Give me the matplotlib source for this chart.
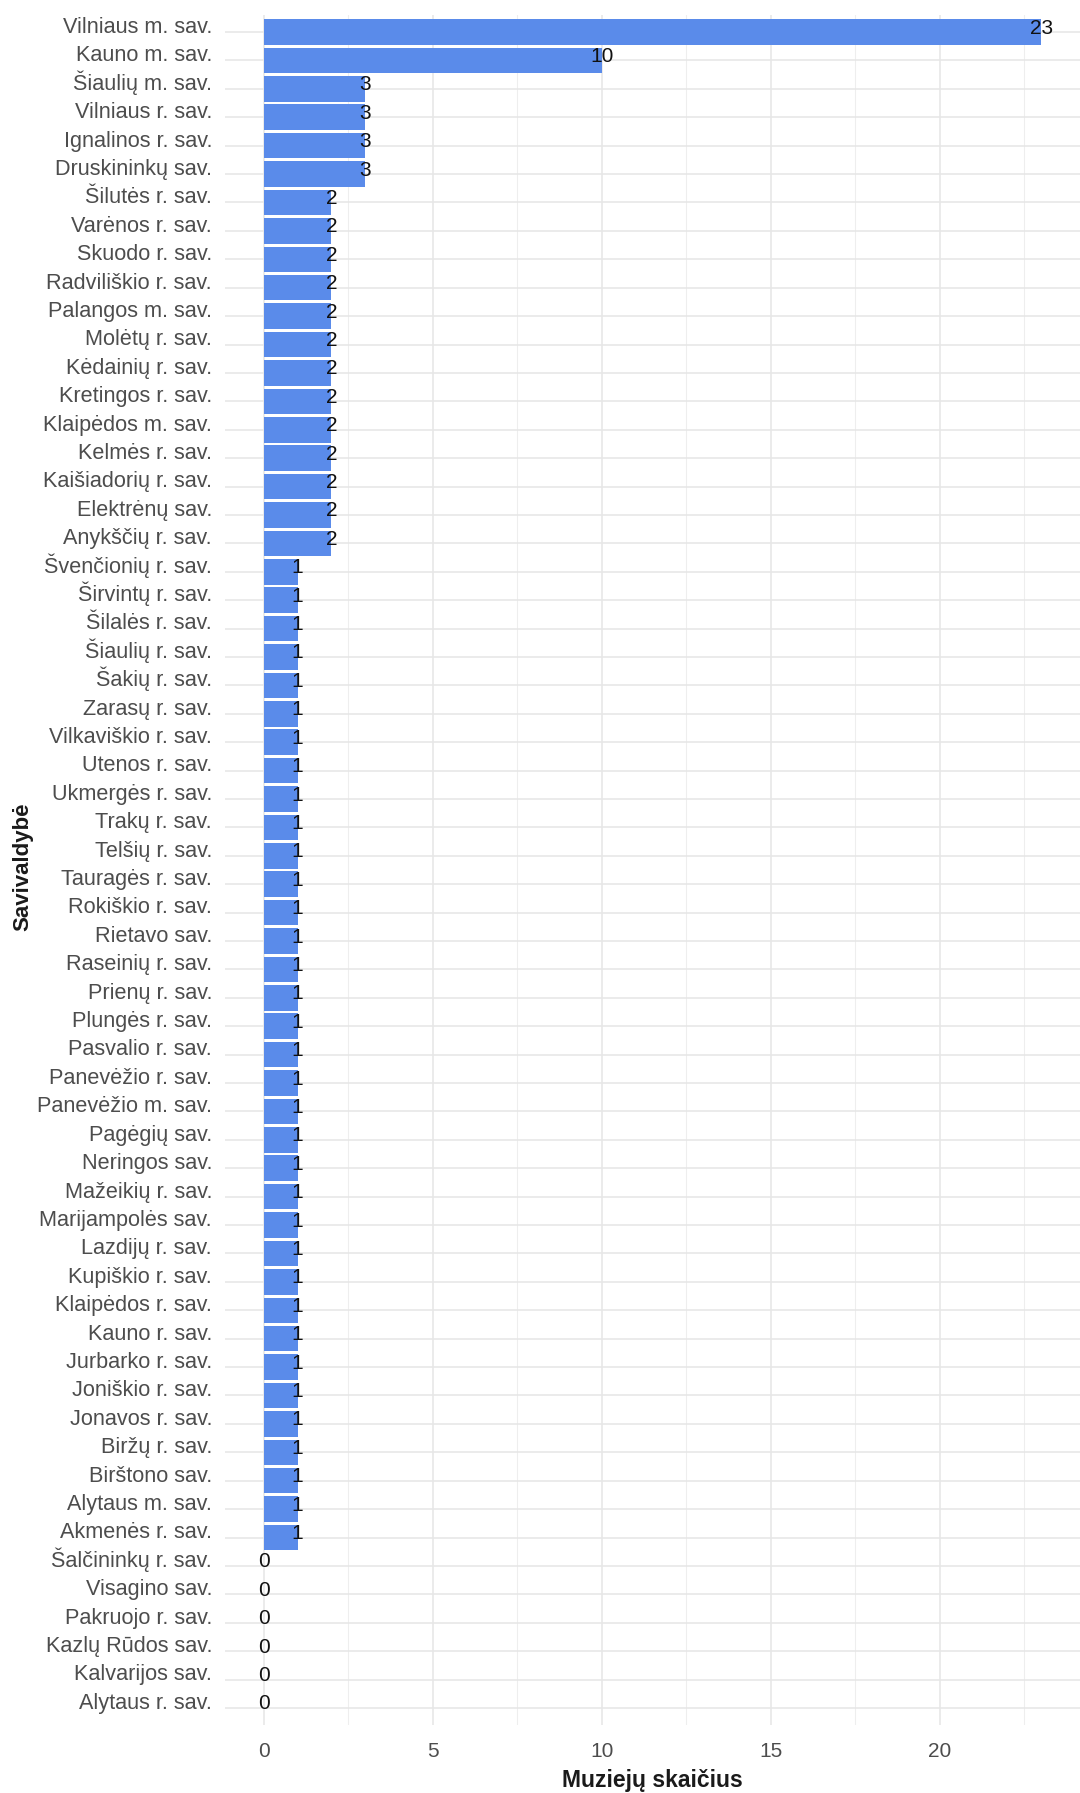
import numpy as np
import matplotlib
matplotlib.use('Agg')
import matplotlib.pyplot as plt

plt.rcParams['font.family'] = ['Liberation Sans', 'DejaVu Sans']

# municipalities, top to bottom
municipalities = [
    'Vilniaus m. sav.', 'Kauno m. sav.', 'Šiaulių m. sav.', 'Vilniaus r. sav.',
    'Ignalinos r. sav.', 'Druskininkų sav.', 'Šilutės r. sav.', 'Varėnos r. sav.',
    'Skuodo r. sav.', 'Radviliškio r. sav.', 'Palangos m. sav.', 'Molėtų r. sav.',
    'Kėdainių r. sav.', 'Kretingos r. sav.', 'Klaipėdos m. sav.', 'Kelmės r. sav.',
    'Kaišiadorių r. sav.', 'Elektrėnų sav.', 'Anykščių r. sav.', 'Švenčionių r. sav.',
    'Širvintų r. sav.', 'Šilalės r. sav.', 'Šiaulių r. sav.', 'Šakių r. sav.',
    'Zarasų r. sav.', 'Vilkaviškio r. sav.', 'Utenos r. sav.', 'Ukmergės r. sav.',
    'Trakų r. sav.', 'Telšių r. sav.', 'Tauragės r. sav.', 'Rokiškio r. sav.',
    'Rietavo sav.', 'Raseinių r. sav.', 'Prienų r. sav.', 'Plungės r. sav.',
    'Pasvalio r. sav.', 'Panevėžio r. sav.', 'Panevėžio m. sav.', 'Pagėgių sav.',
    'Neringos sav.', 'Mažeikių r. sav.', 'Marijampolės sav.', 'Lazdijų r. sav.',
    'Kupiškio r. sav.', 'Klaipėdos r. sav.', 'Kauno r. sav.', 'Jurbarko r. sav.',
    'Joniškio r. sav.', 'Jonavos r. sav.', 'Biržų r. sav.', 'Birštono sav.',
    'Alytaus m. sav.', 'Akmenės r. sav.', 'Šalčininkų r. sav.', 'Visagino sav.',
    'Pakruojo r. sav.', 'Kazlų Rūdos sav.', 'Kalvarijos sav.', 'Alytaus r. sav.',
]
museums = [
    23, 10, 3, 3, 3, 3,
    2, 2, 2, 2, 2, 2, 2, 2, 2, 2, 2, 2, 2,
    1, 1, 1, 1, 1, 1, 1, 1, 1, 1, 1, 1, 1, 1, 1, 1, 1, 1, 1, 1, 1, 1, 1, 1,
    1, 1, 1, 1, 1, 1, 1, 1, 1, 1, 1,
    0, 0, 0, 0, 0, 0,
]
x_ticks = [0, 5, 10, 15, 20]

fig = plt.figure(figsize=(10.8, 17.93), dpi=100)
ax = fig.add_axes([225 / 1080, 68 / 1793, 855 / 1080, 1710 / 1793])

ypos = np.arange(len(municipalities))
ax.barh(ypos, museums, height=0.9, color='#5a8bea', zorder=2)
for y, v in zip(ypos, museums):
    ax.text(v, y - 0.14, str(v), ha='center', va='center',
            fontsize=15, color='#111111', zorder=3)

ax.set_xlim(-1.15, 24.15)
ax.set_ylim(len(municipalities) - 0.4, -0.6)
ax.set_yticks(ypos)
ax.set_yticklabels([])
ax.set_xticks(x_ticks)
ax.set_xticks([2.5, 7.5, 12.5, 17.5, 22.5], minor=True)

# category labels, baseline sitting on the grid line
ylab_tr = ax.get_yaxis_transform()
for y, name in zip(ypos, municipalities):
    ax.text(-0.0152, y + 0.03, name, transform=ylab_tr, ha='right', va='baseline',
            fontsize=15.6, color='#4d4d4d', clip_on=False)

ax.grid(True, which='major', color='#e6e6e6', linewidth=1.1, zorder=0)
ax.grid(True, which='minor', axis='x', color='#eeeeee', linewidth=0.8, zorder=0)
for s in ax.spines.values():
    s.set_visible(False)
ax.tick_params(axis='both', which='both', length=0, labelsize=15, labelcolor='#4d4d4d')
ax.tick_params(axis='x', pad=12)

fig.text(652 / 1080, 1 - 1781 / 1793, 'Muziejų skaičius', ha='center', va='center',
         fontsize=16.5, fontweight='bold', color='#1a1a1a')
fig.text(23 / 1080, 1 - 867 / 1793, 'Savivaldybė', ha='center', va='center',
         rotation=90, fontsize=16, fontweight='bold', color='#1a1a1a')

fig.savefig('out.png', dpi=100)
